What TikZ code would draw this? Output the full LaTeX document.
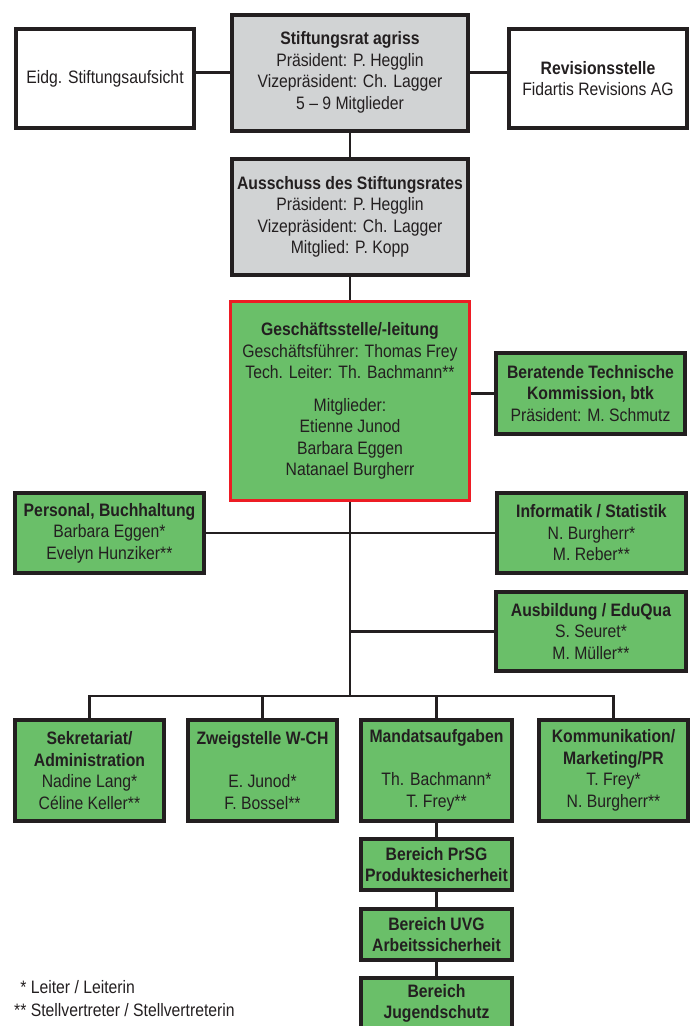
\documentclass[tikz,border=0pt]{standalone}
\usepackage{fontspec}
\setmainfont{Liberation Sans}[FakeStretch=0.875]
\usetikzlibrary{positioning}
\definecolor{ink}{HTML}{231F20}
\definecolor{boardgrey}{HTML}{D1D3D4}
\definecolor{unitgreen}{HTML}{6ABF69}
\definecolor{mgmtred}{HTML}{ED1C24}

\begin{document}
\begin{tikzpicture}[x=1pt, y=-1pt, every node/.style={font={\fontsize{18}{21.5}\selectfont}, text=ink},
    orgbox/.style={draw=ink, line width=4pt, align=center, inner sep=0pt},
    board/.style={orgbox, fill=boardgrey, minimum width=236pt, minimum height=116pt},
    unit/.style={orgbox, fill=unitgreen},
    lowunit/.style={unit, minimum width=149pt, minimum height=101pt},
    area/.style={unit, minimum width=151pt, minimum height=51pt},
    link/.style={draw=ink, line width=2.4pt}]
    \useasboundingbox (0,0) rectangle (696,1026);

    \node[orgbox, minimum width=178pt, minimum height=99pt] (aufsicht) at (105,78.5) {Eidg. Stiftungsaufsicht};
    \node[board] (rat) at (350,72.5) {\textbf{Stiftungsrat agriss}\\Präsident: P. Hegglin\\Vizepräsident: Ch. Lagger\\5 – 9 Mitglieder};
    \node[orgbox, minimum width=178pt, minimum height=99pt] (revision) at (598,78.5) {\textbf{Revisionsstelle}\\Fidartis Revisions AG};
    \node[board] (ausschuss) at (350,217) {\textbf{Ausschuss des Stiftungsrates}\\Präsident: P. Hegglin\\Vizepräsident: Ch. Lagger\\Mitglied: P. Kopp};
    \node[unit, draw=mgmtred, line width=3.3pt, minimum width=238.7pt, minimum height=198.7pt] (leitung) at (350,401) {\textbf{Geschäftsstelle/-leitung}\\Geschäftsführer: Thomas Frey\\Tech. Leiter: Th. Bachmann**\\[11pt]Mitglieder:\\Etienne Junod\\Barbara Eggen\\Natanael Burgherr};
    \node[unit, minimum width=189pt, minimum height=81pt] (btk) at (590.5,393.5) {\textbf{Beratende Technische}\\\textbf{Kommission, btk}\\Präsident: M. Schmutz};
    \node[unit, minimum width=189pt, minimum height=80pt] (personal) at (109.5,533) {\textbf{Personal, Buchhaltung}\\Barbara Eggen*\\Evelyn Hunziker**};
    \node[unit, minimum width=189pt, minimum height=80pt] (informatik) at (591.5,533) {\textbf{Informatik / Statistik}\\N. Burgherr*\\M. Reber**};
    \node[unit, minimum width=190pt, minimum height=79pt] (ausbildung) at (591,631.5) {\textbf{Ausbildung / EduQua}\\S. Seuret*\\M. Müller**};
    \coordinate (bus) at (350,696);

    \node[lowunit] (sekretariat) at (89.5,770.5) {\textbf{Sekretariat/}\\\textbf{Administration}\\Nadine Lang*\\Céline Keller**};
    \node[lowunit] (zweigstelle) at (262.5,770.5) {\textbf{Zweigstelle W-CH}\\[21.5pt]E. Junod*\\F. Bossel**};
    \node[lowunit, minimum width=151pt] (mandate) at (436.5,770.5) {\textbf{Mandatsaufgaben}\\[21.5pt]Th. Bachmann*\\T. Frey**};
    \node[lowunit] (kommunikation) at (613.5,770.5) {\textbf{Kommunikation/}\\\textbf{Marketing/PR}\\T. Frey*\\N. Burgherr**};
    \node[area] (prsg) [below=14pt of mandate] {\textbf{Bereich PrSG}\\\textbf{Produktesicherheit}};
    \node[area] (uvg) [below=15pt of prsg] {\textbf{Bereich UVG}\\\textbf{Arbeitssicherheit}};
    \node[area] (jugend) [below=14pt of uvg] {\textbf{Bereich}\\\textbf{Jugendschutz}};

    \node[anchor=base west, inner sep=0pt] (leiter) at (14,993) {\hphantom{*}* Leiter / Leiterin};
    \node[anchor=base west, inner sep=0pt] (stellv) at (14,1016) {** Stellvertreter / Stellvertreterin};

    \draw[link] (rat.west) -- (rat.west -| aufsicht.east);
    \draw[link] (rat.east) -- (rat.east -| revision.west);
    \draw[link] (rat) -- (ausschuss);
    \draw[link] (ausschuss) -- (leitung);
    \draw[link] (btk.west) -- (btk.west -| leitung.east);
    \draw[link] (leitung) -- (bus);
    \draw[link] (personal) -- (informatik);
    \draw[link] (ausbildung.west) -- (ausbildung.west -| bus);
    \draw[link] (sekretariat.north) |- (bus) -| (kommunikation.north);
    \draw[link] (zweigstelle) -- (zweigstelle |- bus);
    \draw[link] (mandate) -- (mandate |- bus);
    \draw[link] (mandate) -- (prsg);
    \draw[link] (prsg) -- (uvg);
    \draw[link] (uvg) -- (jugend);
\end{tikzpicture}
\end{document}
